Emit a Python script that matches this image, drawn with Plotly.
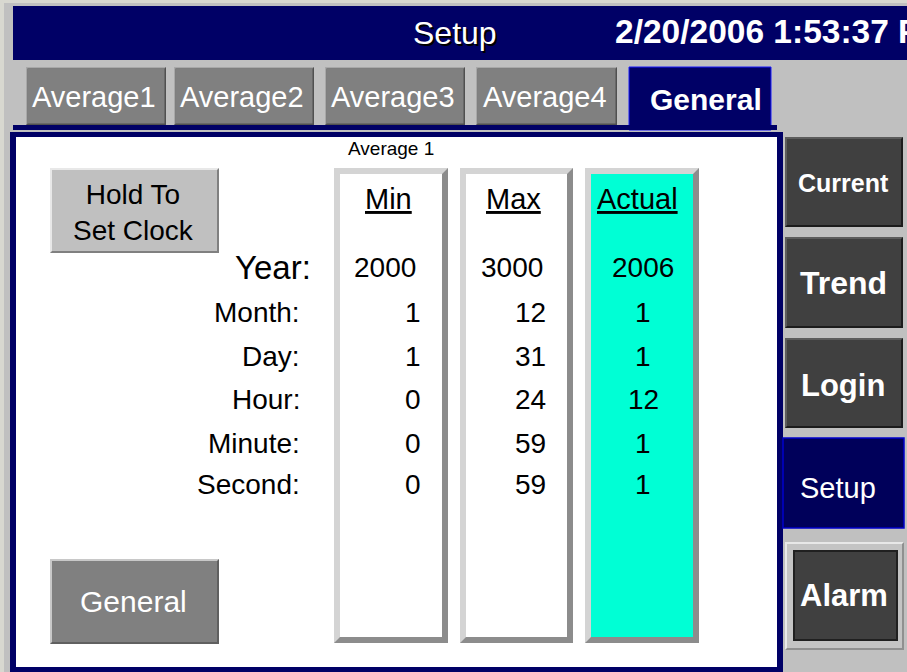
import plotly.graph_objects as go

# ---------------- data ----------------
screen_title = "Setup"
timestamp = "2/20/2006 1:53:37 PM"
tab_labels = ["Average1", "Average2", "Average3", "Average4", "General"]
active_tab = "General"
group_label = "Average 1"
column_headers = ["Min", "Max", "Actual"]
row_labels = ["Year:", "Month:", "Day:", "Hour:", "Minute:", "Second:"]
min_values = [2000, 1, 1, 0, 0, 0]
max_values = [3000, 12, 31, 24, 59, 59]
actual_values = [2006, 1, 1, 12, 1, 1]
nav_labels = ["Current", "Trend", "Login", "Setup", "Alarm"]
active_nav = "Setup"
hold_button_label = "Hold To<br>Set Clock"
general_button_label = "General"

# ---------------- style / layout constants ----------------
W, H = 907, 672
NAVY = "#000066"
BG = "#c0c0c0"
ARIAL = "Liberation Sans, Arial, sans-serif"

shapes = []
annotations = []


def rect(x0, y0, x1, y1, fill, line_color=None, line_width=0):
    shapes.append(dict(type="rect", xref="x", yref="y", x0=x0, y0=y0, x1=x1, y1=y1,
                       fillcolor=fill, line=dict(color=line_color or fill, width=line_width),
                       layer="below"))


def poly(points, fill):
    p = "M " + " L ".join(f"{x},{y}" for x, y in points) + " Z"
    shapes.append(dict(type="path", xref="x", yref="y", path=p, fillcolor=fill,
                       line=dict(width=0), layer="below"))


def bevel(x0, y0, x1, y1, d, light, dark, fill):
    rect(x0, y0, x1, y1, dark)
    poly([(x0, y0), (x1, y0), (x1 - d, y0 + d), (x0 + d, y0 + d), (x0 + d, y1 - d), (x0, y1)], light)
    rect(x0 + d, y0 + d, x1 - d, y1 - d, fill)


def text(x, y, s, size, color="black", xanchor="center", bold=False, shadow=None):
    if bold:
        s = f"<b>{s}</b>"
    font = dict(size=size, color=color, family=ARIAL)
    if shadow:
        font["shadow"] = shadow
    annotations.append(dict(x=x, y=y, xref="x", yref="y", text=s, showarrow=False,
                            xanchor=xanchor, yanchor="middle", font=font))


# window frame
rect(0, 0, 4, H, "#d8d8d0")
rect(0, 0, W, 3, "#d8d8d0")

# title bar
rect(13, 6, W, 60, NAVY)
text(455, 33, screen_title, 32, color="white", shadow="2px 2px 0px black")
text(613, 31, timestamp, 33.5, color="white", xanchor="left", bold=True)

# tabs
tab_x = [(26, 166), (174, 314), (325, 465), (476, 617), (629, 771)]
for (x0, x1), lab in zip(tab_x, tab_labels):
    if lab == active_tab:
        rect(x0, 67, x1, 130, NAVY, "#1a1aff", 1)
        text((x0 + x1) / 2 + 6, 99, lab, 30, color="white", bold=True)
    else:
        bevel(x0, 67, x1, 125, 1.5, "#a8a8a8", "#505050", "#808080")
        text((x0 + x1) / 2 - 2, 97, lab, 29, color="white")

# tab underline and panel
rect(13, 125, 777, 130, NAVY)
rect(10, 132, 783, H, NAVY)
rect(16, 137, 777, 667, "white")

text(391, 148, group_label, 19)

# hold / general buttons
bevel(50, 168, 219, 253, 2, "#e8e8e8", "#808080", "#c0c0c0")
text(133, 212, hold_button_label, 28)
bevel(50, 559, 219, 644, 2, "#c8c8c8", "#606060", "#808080")
text(133, 601, general_button_label, 30, color="white")

# value columns
col_boxes = [(334, 448, "white"), (460, 573, "white"), (585, 699, "#00ffd5")]
for x0, x1, fill in col_boxes:
    bevel(x0, 168, x1, 643, 6, "#d4d4d4", "#8c8c8c", fill)

header_x = [388, 513, 637]
for hx, h in zip(header_x, column_headers):
    text(hx, 199, f"<u>{h}</u>", 29)

row_y = [267, 312, 356, 399, 443, 484]
for i, (lab, yv) in enumerate(zip(row_labels, row_y)):
    if i == 0:
        text(313, yv, lab, 33, xanchor="right")
    else:
        text(302, yv, lab, 28, xanchor="right")

for i, yv in enumerate(row_y):
    if i == 0:
        text(385, yv, str(min_values[i]), 28)
        text(512, yv, str(max_values[i]), 28)
    else:
        text(423, yv, str(min_values[i]), 28, xanchor="right")
        text(548, yv, str(max_values[i]), 28, xanchor="right")
    text(643, yv, str(actual_values[i]), 28)

# navigation buttons
nav_boxes = [(785, 137, 903, 227), (785, 237, 903, 328), (785, 338, 903, 428),
             (783, 438, 904, 528), (785, 542, 904, 650)]
nav_sizes = [25, 32, 31, 29, 31]
nav_text_pos = [(843, 183), (843, 283), (843, 385), (838, 488), (844, 595)]
for (x0, y0, x1, y1), lab, sz, (tx, ty) in zip(nav_boxes, nav_labels, nav_sizes, nav_text_pos):
    if lab == active_nav:
        rect(x0, y0, x1, y1, "#00005a", "#0000cc", 1.5)
        text(tx, ty, lab, sz, color="white")
    elif lab == "Alarm":
        bevel(x0, y0, x1, y1, 2, "#e8e8e8", "#909090", "#c4c4c4")
        bevel(x0 + 8, y0 + 8, x1 - 6, y1 - 9, 2, "#202020", "#202020", "#404040")
        text(tx, ty, lab, sz, color="white", bold=True)
    else:
        bevel(x0, y0, x1, y1, 2, "#5c5c5c", "#1c1c1c", "#404040")
        text(tx, ty, lab, sz, color="white", bold=True)

fig = go.Figure()
fig.add_trace(go.Scatter(x=[0], y=[0], mode="markers", marker=dict(opacity=0),
                         hoverinfo="skip", showlegend=False))
fig.update_layout(
    width=W, height=H,
    margin=dict(l=0, r=0, t=0, b=0),
    paper_bgcolor=BG, plot_bgcolor=BG,
    xaxis=dict(range=[0, W], visible=False, fixedrange=True),
    yaxis=dict(range=[H, 0], visible=False, fixedrange=True),
    shapes=shapes, annotations=annotations, showlegend=False,
)
fig.write_html("out.html", config={"displayModeBar": False},
               post_script="document.body.style.margin='0px';document.body.style.overflow='hidden';")
